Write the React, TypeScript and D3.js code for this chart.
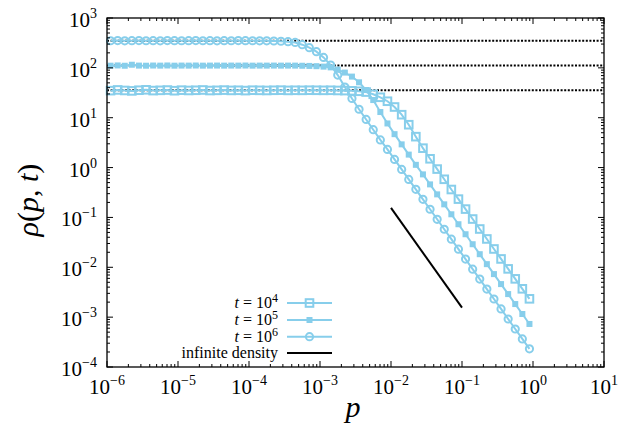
import React from 'react';
import * as d3 from 'd3';

// p grid (log-spaced bins)
const P_VALUES = [
  1.122e-6, 1.413e-6, 1.778e-6, 2.239e-6, 2.818e-6, 3.548e-6, 4.467e-6, 5.623e-6, 7.079e-6, 8.913e-6,
  1.122e-5, 1.413e-5, 1.778e-5, 2.239e-5, 2.818e-5, 3.548e-5, 4.467e-5, 5.623e-5, 7.079e-5, 8.913e-5,
  1.122e-4, 1.413e-4, 1.778e-4, 2.239e-4, 2.818e-4, 3.548e-4, 4.467e-4, 5.623e-4, 7.079e-4, 8.913e-4,
  1.122e-3, 1.413e-3, 1.778e-3, 2.239e-3, 2.818e-3, 3.548e-3, 4.467e-3, 5.623e-3, 7.079e-3, 8.913e-3,
  1.122e-2, 1.413e-2, 1.778e-2, 2.239e-2, 2.818e-2, 3.548e-2, 4.467e-2, 5.623e-2, 7.079e-2, 8.913e-2,
  1.122e-1, 1.413e-1, 1.778e-1, 2.239e-1, 2.818e-1, 3.548e-1, 4.467e-1, 5.623e-1, 7.079e-1, 8.913e-1,
];

// t = 10^4 (open squares)
const RHO_T4 = [
  34.9, 36.1, 35.2, 34.5, 35.6, 36.3, 35.0, 35.4, 35.9, 34.8,
  35.7, 35.2, 35.5, 36.0, 35.1, 35.4, 35.8, 35.3, 35.5, 35.0,
  35.6, 35.4, 35.2, 35.5, 35.7, 35.3, 35.5, 35.4, 35.6, 35.5,
  35.4, 35.5, 35.2, 35.0, 34.6, 33.9, 32.7, 29.5, 25.7, 21.4,
  16.4, 11.5, 7.24, 4.17, 2.45, 1.50, 0.933, 0.582, 0.363, 0.233,
  0.147, 0.0929, 0.0586, 0.0370, 0.0233, 0.0147, 0.00929, 0.00586, 0.00370, 0.00233,
];

// t = 10^5 (filled squares)
const RHO_T5 = [
  110.5, 111.8, 110.2, 115.5, 111.0, 110.4, 111.3, 110.8, 111.6, 110.6,
  111.1, 110.9, 111.4, 110.7, 111.0, 111.2, 110.8, 111.1, 110.9, 111.3,
  110.7, 111.0, 110.9, 111.1, 110.8, 111.0, 110.9, 110.2, 109.4, 108.1,
  105.9, 102.3, 92.3, 80.4, 66.8, 51.3, 35.9, 22.6, 13.0, 7.67,
  4.68, 2.92, 1.82, 1.135, 0.730, 0.460, 0.290, 0.183, 0.1156, 0.0730,
  0.0460, 0.0290, 0.0183, 0.01156, 0.00730, 0.00460, 0.00290, 0.00183, 0.001156, 0.000730,
];

// t = 10^6 (open circles)
const RHO_T6 = [
  350, 352, 349, 351, 353, 350, 351, 349, 352, 351,
  350, 351, 352, 350, 351, 349, 351, 350, 352, 351,
  350, 349, 348.3, 345.9, 342.0, 335.0, 323.6, 291.7, 254.1, 211.3,
  162.2, 113.5, 71.6, 41.2, 24.3, 14.8, 9.23, 5.75, 3.59, 2.31,
  1.455, 0.918, 0.579, 0.366, 0.231, 0.146, 0.0918, 0.0579, 0.0366, 0.0231,
  0.0146, 0.00918, 0.00579, 0.00366, 0.00231, 0.00146, 0.000918, 0.000579, 0.000366, 0.000231,
];

const PLATEAUS = [35.5, 110.9, 351];
const INF_P = [0.01, 0.1];
const INF_RHO = [0.155, 0.00155];

const X_EXPONENTS = [-6, -5, -4, -3, -2, -1, 0, 1];
const Y_EXPONENTS = [-4, -3, -2, -1, 0, 1, 2, 3];
const LEGEND_LABELS = ['4', '5', '6'];

const W = 628;
const H = 426;
const L = 107, R = 604, T = 18, B = 367;
const BLUE = '#87ceeb';
const FONT = "'Liberation Serif'";

const fmtExp = (e: number) => (e < 0 ? '\u2212' + Math.abs(e) : String(e));

function Marker({ kind, x, y }: { kind: string; x: number; y: number }) {
  if (kind === 'sq') {
    return <rect x={x - 3.8} y={y - 3.8} width={7.6} height={7.6} fill="none" stroke={BLUE} strokeWidth={2} />;
  }
  if (kind === 'fsq') {
    return <rect x={x - 3} y={y - 3} width={6} height={6} fill={BLUE} stroke="none" />;
  }
  return <circle cx={x} cy={y} r={3.6} fill="none" stroke={BLUE} strokeWidth={2} />;
}

export default function App() {
  const x = d3.scaleLog().domain([1e-6, 1e1]).range([L, R]);
  const y = d3.scaleLog().domain([1e-4, 1e3]).range([B, T]);

  const series = [
    { vals: RHO_T4, kind: 'sq' },
    { vals: RHO_T5, kind: 'fsq' },
    { vals: RHO_T6, kind: 'circ' },
  ];

  const line = d3
    .line<[number, number]>()
    .x((d) => x(d[0]))
    .y((d) => y(d[1]));

  const xMinor: number[] = [];
  for (const e of X_EXPONENTS.slice(0, -1)) for (let m = 2; m <= 9; m++) xMinor.push(m * Math.pow(10, e));
  const yMinor: number[] = [];
  for (const e of Y_EXPONENTS.slice(0, -1)) for (let m = 2; m <= 9; m++) yMinor.push(m * Math.pow(10, e));

  const tickLines: any[] = [];
  X_EXPONENTS.forEach((e) => {
    const px = x(Math.pow(10, e));
    tickLines.push(<line key={'xb' + e} x1={px} x2={px} y1={B} y2={B - 6} />);
    tickLines.push(<line key={'xt' + e} x1={px} x2={px} y1={T} y2={T + 6} />);
  });
  xMinor.forEach((v, i) => {
    const px = x(v);
    tickLines.push(<line key={'xbm' + i} x1={px} x2={px} y1={B} y2={B - 3} />);
    tickLines.push(<line key={'xtm' + i} x1={px} x2={px} y1={T} y2={T + 3} />);
  });
  Y_EXPONENTS.forEach((e) => {
    const py = y(Math.pow(10, e));
    tickLines.push(<line key={'yl' + e} x1={L} x2={L + 6} y1={py} y2={py} />);
    tickLines.push(<line key={'yr' + e} x1={R} x2={R - 6} y1={py} y2={py} />);
  });
  yMinor.forEach((v, i) => {
    const py = y(v);
    tickLines.push(<line key={'ylm' + i} x1={L} x2={L + 3} y1={py} y2={py} />);
    tickLines.push(<line key={'yrm' + i} x1={R} x2={R - 3} y1={py} y2={py} />);
  });

  const legendRows = [303, 320, 336.7];
  const legX1 = 287, legX2 = 332, legTextX = 278;
  const txt = { fontFamily: FONT };

  return (
    <svg
      width={W}
      height={H}
      viewBox={`0 0 ${W} ${H}`}
      style={{ position: 'fixed', left: 0, top: 0, background: '#fff', fontFamily: FONT }}
    >
      <rect x={0} y={0} width={W} height={H} fill="#fff" />

      {/* dotted plateau lines */}
      {PLATEAUS.map((v, i) => (
        <line
          key={'pl' + i}
          x1={x(1e-6)}
          x2={x(1e1)}
          y1={y(v)}
          y2={y(v)}
          stroke="#000"
          strokeWidth={2}
          strokeDasharray="2,1.6"
        />
      ))}

      {/* data series */}
      {series.map((s, si) => {
        const pts: [number, number][] = P_VALUES.map((p, i) => [p, s.vals[i]]);
        return (
          <g key={'s' + si}>
            <path d={line(pts) || ''} fill="none" stroke={BLUE} strokeWidth={2} />
            {pts.map((d, i) => (
              <Marker key={i} kind={s.kind} x={x(d[0])} y={y(d[1])} />
            ))}
          </g>
        );
      })}

      {/* infinite density */}
      <line x1={x(INF_P[0])} y1={y(INF_RHO[0])} x2={x(INF_P[1])} y2={y(INF_RHO[1])} stroke="#000" strokeWidth={2} />

      {/* frame and ticks */}
      <g stroke="#000" strokeWidth={1}>{tickLines}</g>
      <rect x={L} y={T} width={R - L} height={B - T} fill="none" stroke="#000" strokeWidth={1.3} />

      {/* x tick labels */}
      {X_EXPONENTS.map((e) => (
        <text key={'xl' + e} style={txt} x={x(Math.pow(10, e))} y={394} textAnchor="middle" fontSize={21}>
          10
          <tspan dy={-9} fontSize={14}>
            {fmtExp(e)}
          </tspan>
        </text>
      ))}

      {/* y tick labels */}
      {Y_EXPONENTS.map((e) => (
        <text key={'yl' + e} style={txt} x={97} y={y(Math.pow(10, e)) + 9} textAnchor="end" fontSize={21}>
          10
          <tspan dy={-9} fontSize={14}>
            {fmtExp(e)}
          </tspan>
        </text>
      ))}

      {/* axis titles */}
      <text style={txt} x={353} y={417} textAnchor="middle" fontSize={30} fontStyle="italic">
        p
      </text>
      <text style={txt} transform="translate(38,200) rotate(-90)" textAnchor="middle" fontSize={30}>
        <tspan fontStyle="italic">ρ</tspan>(<tspan fontStyle="italic">p</tspan>, <tspan fontStyle="italic">t</tspan>)
      </text>

      {/* legend */}
      {series.map((s, i) => {
        const ly = legendRows[i];
        return (
          <g key={'lg' + i}>
            <text style={txt} x={legTextX} y={ly + 5} textAnchor="end" fontSize={16}>
              <tspan fontStyle="italic">t</tspan> = 10
              <tspan dy={-6} fontSize={12}>
                {LEGEND_LABELS[i]}
              </tspan>
            </text>
            <line x1={legX1} x2={legX2} y1={ly} y2={ly} stroke={BLUE} strokeWidth={2} />
            <Marker kind={s.kind} x={(legX1 + legX2) / 2} y={ly} />
          </g>
        );
      })}
      <text style={txt} x={legTextX} y={353 + 5} textAnchor="end" fontSize={16}>
        infinite density
      </text>
      <line x1={legX1} x2={legX2} y1={353} y2={353} stroke="#000" strokeWidth={2} />
    </svg>
  );
}
